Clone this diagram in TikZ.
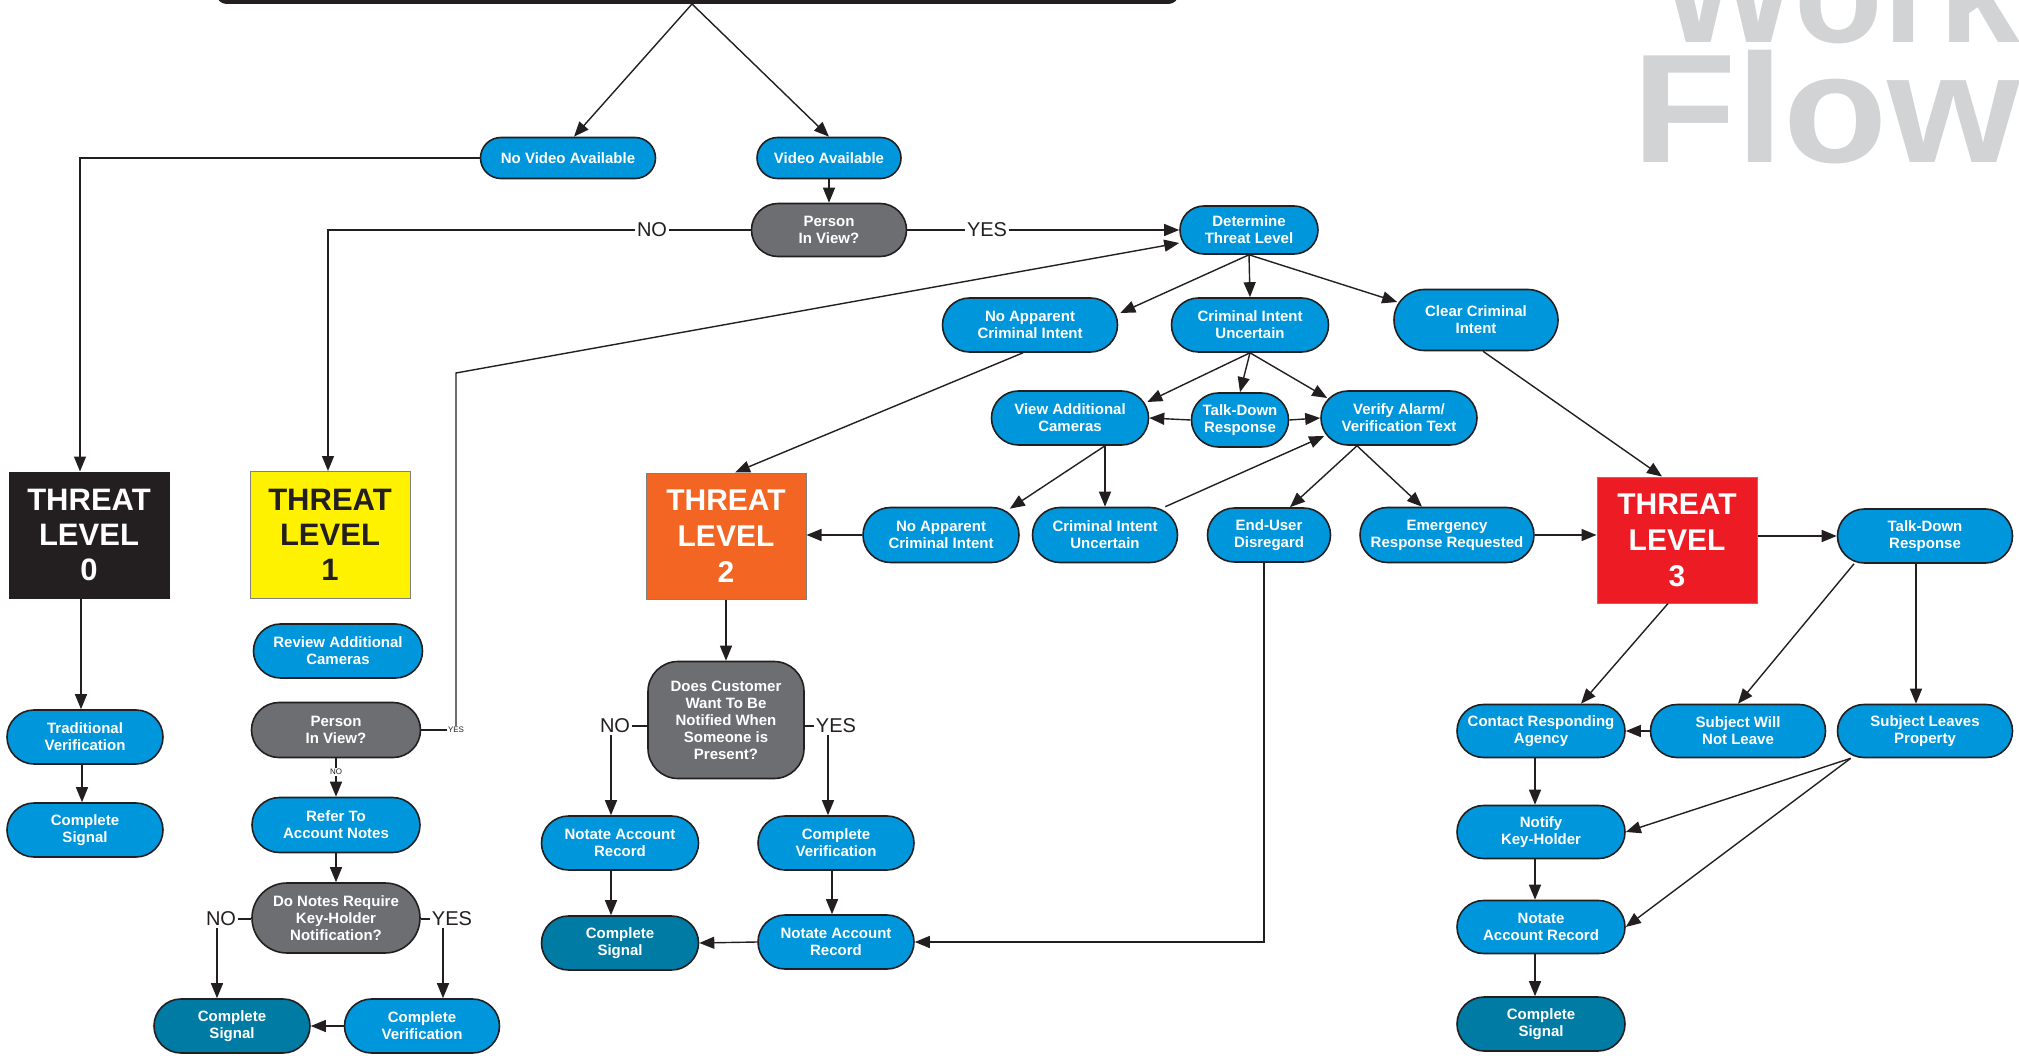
\documentclass[tikz,border=0pt]{standalone}
\usepackage{fontspec}
\setmainfont{Liberation Sans}
\usetikzlibrary{arrows.meta}
\definecolor{tblue}{RGB}{0,150,219}
\definecolor{tteal}{RGB}{0,123,164}
\definecolor{tgray}{RGB}{109,110,113}
\definecolor{tdark}{RGB}{35,31,32}
\definecolor{tyellow}{RGB}{255,242,0}
\definecolor{torange}{RGB}{242,101,34}
\definecolor{tred}{RGB}{237,28,36}
\definecolor{twm}{RGB}{209,211,212}
\definecolor{tlborder}{RGB}{128,128,128}
\begin{document}
\begin{tikzpicture}[x=1pt,y=-1pt,
  pill/.style 2 args={fill=tblue, draw=tdark, line width=1.6pt, text=white, align=center, inner sep=1pt,
    minimum width=#1, minimum height=#2, rounded corners=0.5*#2, font=\bfseries\fontsize{15}{17}\selectfont},
  gpill/.style 2 args={pill={#1}{#2}, fill=tgray},
  tpill/.style 2 args={pill={#1}{#2}, fill=tteal},
  lvl/.style 2 args={minimum width=#1, minimum height=#2, inner sep=0pt, align=center, line width=1pt, draw=tlborder},
  lbl/.style={inner sep=2pt, font=\fontsize{20}{20}\selectfont, text=tdark},
  tlbl/.style={inner sep=1pt, font=\fontsize{8}{8}\selectfont, text=tdark},
  arr/.style={-{Triangle[length=15pt,width=12pt]}, line width=1.4pt, draw=tdark},
  ln/.style={line width=1.4pt, draw=tdark},
  wm/.style={anchor=base west, inner sep=0pt, text=twm, font=\bfseries\fontsize{155}{155}\selectfont}
]
\useasboundingbox (0,0) rectangle (2019,1056);
\clip (0,0) rectangle (2019,1056);

% watermark
\node[wm, font=\bfseries\fontsize{145}{145}\selectfont] (work) at (1660,43) {Work};
\node[wm] (flow) at (1632,163) {\scalebox{1.1}[1]{Flow}};

% title bar (cut off)
\node[fill=tdark, minimum width=962pt, minimum height=44pt, rounded corners=10pt, inner sep=0pt] (title) at (697.5,-18) {};
\coordinate (apex) at (692,4);

% top nodes
\node[pill={175pt}{41pt}] (nova) at (568,158) {No Video Available};
\node[pill={144pt}{41pt}] (va) at (829,158) {Video Available};
\node[gpill={155pt}{53pt}] (piv) at (829,230) {Person\\In View?};
\node[pill={138pt}{48pt}] (dtl) at (1249,230) {Determine\\Threat Level};
\node[lbl] (lno) at (652,230) {NO};
\node[lbl] (lyes) at (987,230) {YES};

% threat level determination
\node[pill={175pt}{54pt}] (nac1) at (1030,325) {No Apparent\\Criminal Intent};
\node[pill={157pt}{54pt}] (ciu1) at (1250,325) {Criminal Intent\\Uncertain};
\node[pill={164pt}{61pt}] (cci) at (1476,320) {Clear Criminal\\Intent};
\node[pill={157pt}{54pt}] (vac) at (1070,418) {View Additional\\Cameras};
\node[pill={97pt}{54pt}] (tdr) at (1240,420) {Talk-Down\\Response};
\node[pill={156pt}{54pt}] (ver) at (1399,418) {Verify Alarm/\\Verification Text};
\node[pill={156pt}{55pt}] (nac2) at (941,535) {No Apparent\\Criminal Intent};
\node[pill={145pt}{55pt}] (ciu2) at (1105,535) {Criminal Intent\\Uncertain};
\node[pill={123pt}{54pt}] (eud) at (1269,535) {End-User\\Disregard};
\node[pill={174pt}{55pt}] (err) at (1447,535) {Emergency\\Response Requested};

% threat level boxes
\node[lvl={160pt}{126pt}, fill=tdark, draw=tdark, text=white, font=\bfseries\fontsize{31}{35}\selectfont] (tl0) at (89,535) {THREAT\\LEVEL\\0};
\node[lvl={160pt}{127pt}, fill=tyellow, text=tdark, font=\bfseries\fontsize{31}{35}\selectfont] (tl1) at (330,535) {THREAT\\LEVEL\\1};
\node[lvl={160pt}{126pt}, fill=torange, text=white, font=\bfseries\fontsize{30}{36}\selectfont] (tl2) at (726,536) {THREAT\\LEVEL\\2};
\node[lvl={160pt}{126pt}, fill=tred, text=white, font=\bfseries\fontsize{30}{36}\selectfont] (tl3) at (1677,540) {THREAT\\LEVEL\\3};

% level 0
\node[pill={156pt}{54pt}] (tv) at (85,737) {Traditional\\Verification};
\node[pill={156pt}{54pt}] (cs0) at (85,830) {Complete\\Signal};

% level 1
\node[pill={169pt}{54pt}] (rac) at (338,651) {Review Additional\\Cameras};
\node[gpill={169pt}{55pt}] (piv2) at (336,730) {Person\\In View?};
\node[tlbl] (no1) at (336,772) {NO};
\node[tlbl] (yes1) at (456,730) {YES};
\node[pill={168pt}{55pt}] (raan) at (336,825) {Refer To\\Account Notes};
\node[gpill={168pt}{70pt}] (dnr) at (336,918) {Do Notes Require\\Key-Holder\\Notification?};
\node[lbl] (no2) at (221,919) {NO};
\node[lbl] (yes2) at (452,919) {YES};
\node[tpill={156pt}{54pt}] (cs1) at (232,1026) {Complete\\Signal};
\node[pill={155pt}{54pt}] (cv1) at (422,1026) {Complete\\Verification};

% level 2
\node[gpill={156pt}{117pt}, rounded corners=30pt] (dcw) at (726,720) {Does Customer\\Want To Be\\Notified When\\Someone is\\Present?};
\node[lbl] (no3) at (615,726) {NO};
\node[lbl] (yes3) at (836,726) {YES};
\node[pill={157pt}{54pt}] (nar1) at (620,843) {Notate Account\\Record};
\node[pill={156pt}{54pt}] (cv2) at (836,843) {Complete\\Verification};
\node[tpill={157pt}{54pt}] (cs2) at (620,943) {Complete\\Signal};
\node[pill={156pt}{54pt}] (nar2) at (836,942) {Notate Account\\Record};

% level 3
\node[pill={175pt}{54pt}] (tdr3) at (1925,536) {Talk-Down\\Response};
\node[pill={168pt}{53pt}] (cra) at (1541,731) {Contact Responding\\Agency};
\node[pill={175pt}{53pt}] (swnl) at (1738,731) {Subject Will\\Not Leave};
\node[pill={175pt}{53pt}] (sle) at (1925,731) {Subject Leaves\\Property};
\node[pill={168pt}{53pt}] (nkh) at (1541,832) {Notify\\Key-Holder};
\node[pill={168pt}{53pt}] (nar3) at (1541,927) {Notate\\Account Record};
\node[tpill={168pt}{54pt}] (cs3) at (1541,1024) {Complete\\Signal};

% connectors: top
\draw[arr] (apex) -- ([xshift=6pt]nova.north);
\draw[arr] (apex) -- (va.north);
\draw[arr] (nova.west) -| ([xshift=-9pt]tl0.north);
\draw[arr] (va.south) -- (piv.north);
\draw[ln] (piv.west) -- (lno.east);
\draw[arr] (lno.west) -| ([xshift=-2pt]tl1.north);
\draw[ln] (piv.east) -- (lyes.west);
\draw[arr] (lyes.east) -- (dtl.west);

% connectors: determination
\draw[arr] (dtl.south) -- ([xshift=2pt,yshift=12pt]nac1.east);
\draw[arr] (dtl.south) -- (ciu1.north);
\draw[arr] (dtl.south) -- ([xshift=4pt,yshift=18pt]cci.west);
\draw[arr] ([xshift=7pt]cci.south) -- ([xshift=-15pt]tl3.north);
\draw[arr] ([xshift=-7pt]nac1.south) -- ([xshift=9pt]tl2.north);
\draw[arr] (ciu1.south) -- ([xshift=-2pt,yshift=16pt]vac.east);
\draw[arr] (ciu1.south) -- (tdr.north);
\draw[arr] (ciu1.south) -- ([xshift=7pt,yshift=20pt]ver.west);
\draw[arr] (tdr.west) -- (vac.east);
\draw[arr] (tdr.east) -- (ver.west);
\draw[arr] ([xshift=35pt]vac.south) -- ([xshift=-10pt,yshift=-2pt]nac2.north east);
\draw[arr] ([xshift=35pt]vac.south) -- (ciu2.north);
\draw[arr] ([xshift=-13pt]ciu2.north east) -- ([xshift=4pt,yshift=-18pt]ver.west);
\draw[arr] ([xshift=-42pt]ver.south) -- ([xshift=21pt]eud.north);
\draw[arr] ([xshift=-42pt]ver.south) -- ([xshift=-25pt]err.north);
\draw[arr] (err.east) -- (err.east -| tl3.west);
\draw[arr] (nac2.west) -- (nac2.west -| tl2.east);
\draw[arr] (tl3.east |- tdr3.west) -- (tdr3.west);

% connectors: level 2
\draw[arr] (tl2.south) -- (dcw.north);
\draw[arr] ([xshift=-5pt]eud.south) |- (nar2.east);
\draw[ln] (no3.east) -- (no3.east -| dcw.west);
\draw[arr] ([xshift=-4pt]no3.south) -- ([xshift=-4pt]no3.south |- nar1.north);
\draw[ln] (yes3.west) -- (yes3.west -| dcw.east);
\draw[arr] ([xshift=-8pt]yes3.south) -- ([xshift=-8pt]yes3.south |- cv2.north);
\draw[arr] ([xshift=-9pt]nar1.south) -- ([xshift=-9pt]cs2.north);
\draw[arr] ([xshift=-4pt]cv2.south) -- ([xshift=-4pt]nar2.north);
\draw[arr] (nar2.west) -- (cs2.east);

% connectors: level 0 and 1
\draw[arr] ([xshift=-8pt]tl0.south) -- ([xshift=-8pt]tl0.south |- tv.north);
\draw[arr] ([xshift=-3pt]tv.south) -- ([xshift=-3pt]cs0.north);
\draw[ln] (piv2.south) -- (no1.north);
\draw[arr] (no1.south) -- (raan.north);
\draw[arr] (raan.south) -- (dnr.north);
\draw[ln] (no2.east) -- (no2.east -| dnr.west);
\draw[arr] ([xshift=-4pt]no2.south) -- ([xshift=-4pt]no2.south |- cs1.north);
\draw[ln] (yes2.west) -- (yes2.west -| dnr.east);
\draw[arr] ([xshift=-9pt]yes2.south) -- ([xshift=-9pt]yes2.south |- cv1.north);
\draw[arr] (cv1.west) -- (cs1.east);
\draw[ln] (piv2.east) -- (yes1.west);
\coordinate (c1) at (456,373);
\draw[arr] (yes1.north) -- (c1) -- ([yshift=-13pt]dtl.west);

% connectors: level 3
\draw[arr] ([xshift=-9pt]tl3.south) -- ([xshift=40pt]cra.north);
\draw[arr] ([xshift=-71pt]tdr3.south) -- (swnl.north);
\draw[arr] ([xshift=-9pt]tdr3.south) -- ([xshift=-9pt]sle.north);
\draw[arr] (swnl.west) -- (cra.east);
\draw[arr] ([xshift=-6pt]cra.south) -- ([xshift=-6pt]nkh.north);
\draw[arr] ([xshift=-6pt]nkh.south) -- ([xshift=-6pt]nar3.north);
\draw[arr] ([xshift=-6pt]nar3.south) -- ([xshift=-6pt]cs3.north);
\draw[arr] ([xshift=14pt]sle.south west) -- (nkh.east);
\draw[arr] ([xshift=14pt]sle.south west) -- (nar3.east);
\end{tikzpicture}
\end{document}
